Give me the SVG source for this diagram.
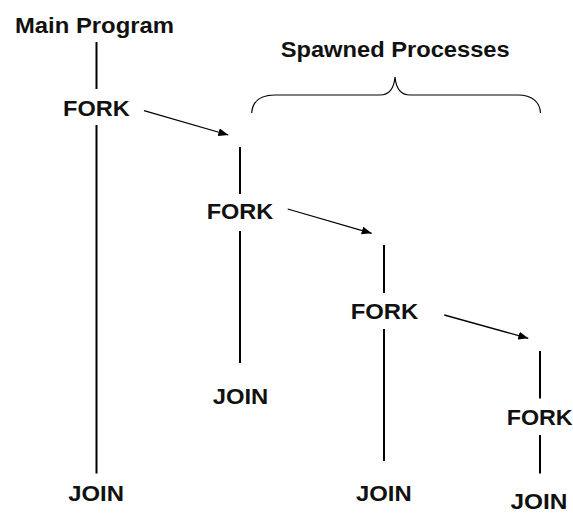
<svg xmlns="http://www.w3.org/2000/svg" width="573" height="514" viewBox="0 0 573 514">
  <style>
    text { font-family: "Liberation Sans", Arial, Helvetica, sans-serif; font-weight: bold; font-size: 22px; fill: #111; }
    .life { stroke: #000; stroke-width: 2; fill: none; }
    .spawn { stroke: #000; stroke-width: 1.3; fill: none; marker-end: url(#head); }
    .brace { stroke: #000; stroke-width: 1.2; fill: none; }
  </style>
  <defs>
    <marker id="head" viewBox="0 0 10 8" refX="10" refY="4" markerWidth="10" markerHeight="8" markerUnits="userSpaceOnUse" orient="auto">
      <path d="M0,0 L10,4 L0,8 Z" fill="#000"/>
    </marker>
  </defs>

  <rect width="573" height="514" fill="#fff"/>

  <!-- title and brace over the spawned processes -->
  <g id="title-main">
    <text x="15" y="33.3" textLength="159" lengthAdjust="spacingAndGlyphs">Main Program</text>
  </g>
  <g id="title-spawned">
    <text x="280.7" y="56.7" textLength="229" lengthAdjust="spacingAndGlyphs">Spawned Processes</text>
    <path class="brace" d="M251.7,113 C252.5,101 261,95 275,95 L380,95 C389,95 394,88 395,77 C396,88 401,95 410,95 L518,95 C532,95 540,102 540.5,113"/>
  </g>

  <!-- process 0: main program -->
  <g id="proc-main">
    <line class="life" x1="96.5" y1="42" x2="96.5" y2="89"/>
    <text x="63" y="115.7" textLength="66.7" lengthAdjust="spacingAndGlyphs">FORK</text>
    <line class="life" x1="96.5" y1="125" x2="96.5" y2="473.5"/>
    <text x="68.3" y="501" textLength="55.7" lengthAdjust="spacingAndGlyphs">JOIN</text>
  </g>

  <!-- process 1 -->
  <g id="proc-1">
    <line class="life" x1="240" y1="147" x2="240" y2="194"/>
    <text x="206.7" y="219.3" textLength="66.6" lengthAdjust="spacingAndGlyphs">FORK</text>
    <line class="life" x1="240" y1="231" x2="240" y2="363"/>
    <text x="212.7" y="404.3" textLength="55.6" lengthAdjust="spacingAndGlyphs">JOIN</text>
  </g>

  <!-- process 2 -->
  <g id="proc-2">
    <line class="life" x1="384" y1="245" x2="384" y2="293"/>
    <text x="350.7" y="319.3" textLength="67.6" lengthAdjust="spacingAndGlyphs">FORK</text>
    <line class="life" x1="384" y1="329" x2="384" y2="461"/>
    <text x="356" y="501" textLength="55.7" lengthAdjust="spacingAndGlyphs">JOIN</text>
  </g>

  <!-- process 3 -->
  <g id="proc-3">
    <line class="life" x1="540" y1="351" x2="540" y2="398.5"/>
    <text x="506.7" y="425" textLength="66" lengthAdjust="spacingAndGlyphs">FORK</text>
    <line class="life" x1="540" y1="435" x2="540" y2="473.5"/>
    <text x="510.5" y="509" textLength="57" lengthAdjust="spacingAndGlyphs">JOIN</text>
  </g>

  <!-- fork arrows -->
  <g id="connectors">
    <line class="spawn" x1="144" y1="110.7" x2="228.3" y2="135"/>
    <line class="spawn" x1="287.7" y1="209" x2="371.7" y2="233.3"/>
    <line class="spawn" x1="444.3" y1="315" x2="528.3" y2="338.3"/>
  </g>
</svg>
